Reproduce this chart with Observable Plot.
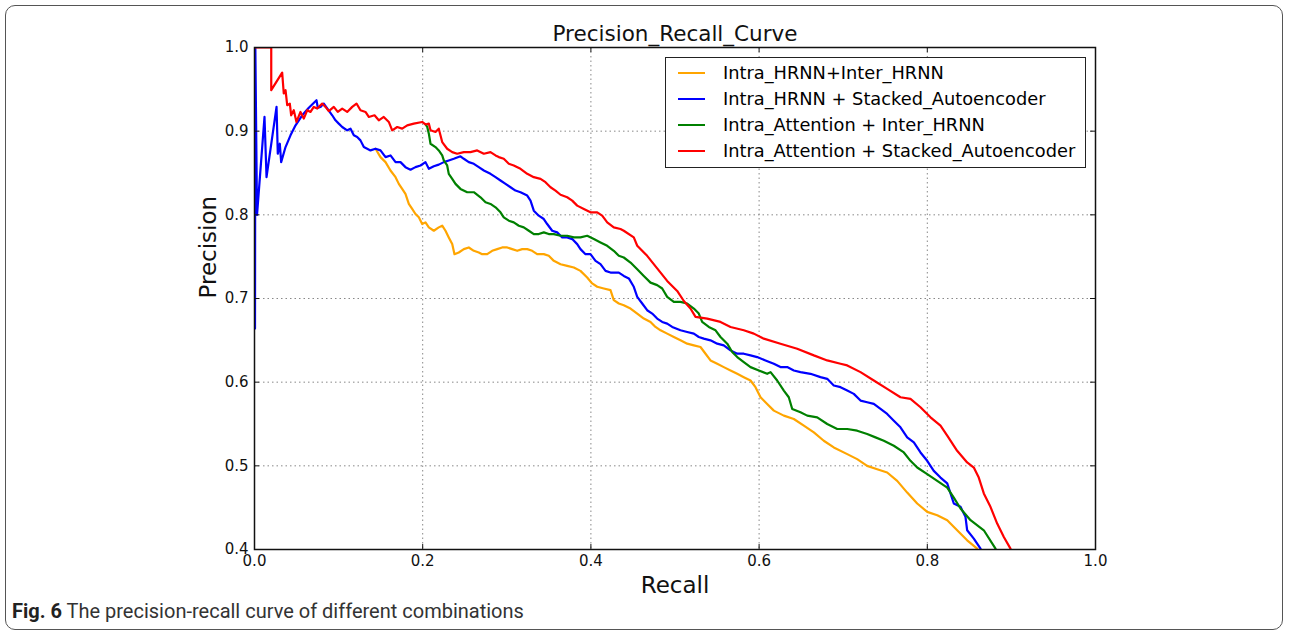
<!DOCTYPE html>
<html>
<head>
<meta charset="utf-8">
<script src="https://cdn.jsdelivr.net/npm/d3@7"></script>
<script src="https://cdn.jsdelivr.net/npm/@observablehq/plot@0.6"></script>
<style>
  html, body { margin: 0; padding: 0; background: #fff; }
  #wrap { position: relative; width: 1290px; height: 637px; overflow: hidden; font-family: "DejaVu Sans", sans-serif; }
  #border { position: absolute; left: 5px; top: 5px; width: 1278px; height: 625px; border: 1.5px solid #555; border-radius: 10px; box-sizing: border-box; }
  #chart { position: absolute; left: 0; top: 0; }
  #legend { position: absolute; left: 665px; top: 57px; width: 421px; height: 111px; border: 1.5px solid #222; box-sizing: border-box; background: #fff; }
  .item { position: absolute; left: 0; height: 22px; font-size: 17.8px; color: #000; white-space: nowrap; }
  .item .sw { position: absolute; left: 12px; top: 10px; width: 27px; height: 0; border-top: 2px solid; }
  .item .lb { position: absolute; left: 57px; top: 0; line-height: 22px; }
  #caption { position: absolute; left: 12px; top: 599px; font-family: Roboto, "Noto Sans", sans-serif; font-size: 20px; color: #333; }
  #caption b { color: #222; }
</style>
</head>
<body>
<div id="wrap">
  <div id="border"></div>
  <div id="chart"></div>
  <div id="legend"></div>
  <div id="caption"><b>Fig. 6</b> The precision-recall curve of different combinations</div>
</div>
<script>
const seriesNames = ["Intra_HRNN+Inter_HRNN", "Intra_HRNN + Stacked_Autoencoder", "Intra_Attention + Inter_HRNN", "Intra_Attention + Stacked_Autoencoder"];
const seriesColors = ["orange", "#0000ff", "#008000", "#ff0000"];
const xTicks = [0.0, 0.2, 0.4, 0.6, 0.8, 1.0];
const yTicks = [0.4, 0.5, 0.6, 0.7, 0.8, 0.9, 1.0];
const titleText = "Precision_Recall_Curve";
const xLabel = "Recall";
const yLabel = "Precision";

// [recall, precision]
const orangePR = [[0.1439,0.879],[0.1498,0.869],[0.1558,0.863],[0.1617,0.853],[0.1677,0.845],[0.1716,0.837],[0.1756,0.831],[0.1795,0.825],[0.1835,0.813],[0.1875,0.807],[0.1914,0.801],[0.1954,0.797],[0.1994,0.789],[0.2033,0.791],[0.2073,0.785],[0.2132,0.781],[0.2191,0.785],[0.2232,0.787],[0.2271,0.781],[0.231,0.773],[0.2351,0.765],[0.2378,0.753],[0.2429,0.755],[0.2489,0.759],[0.2548,0.761],[0.2608,0.757],[0.2667,0.755],[0.2707,0.753],[0.2767,0.753],[0.2826,0.757],[0.2886,0.759],[0.2945,0.761],[0.3005,0.761],[0.3064,0.759],[0.3124,0.757],[0.3183,0.759],[0.3243,0.759],[0.3302,0.757],[0.3361,0.753],[0.344,0.753],[0.3499,0.751],[0.3559,0.745],[0.3639,0.741],[0.3718,0.739],[0.3797,0.737],[0.3876,0.733],[0.3956,0.725],[0.4015,0.718],[0.4075,0.714],[0.4153,0.712],[0.4233,0.71],[0.4272,0.698],[0.4332,0.694],[0.4391,0.692],[0.4471,0.688],[0.4551,0.682],[0.4629,0.676],[0.4709,0.672],[0.4768,0.666],[0.4828,0.662],[0.4907,0.658],[0.4986,0.654],[0.5065,0.65],[0.5145,0.646],[0.5224,0.644],[0.5303,0.642],[0.5363,0.634],[0.5422,0.626],[0.5502,0.622],[0.558,0.618],[0.566,0.614],[0.574,0.61],[0.5818,0.606],[0.5898,0.602],[0.5957,0.594],[0.6017,0.582],[0.6096,0.574],[0.6175,0.566],[0.6294,0.56],[0.6413,0.556],[0.6532,0.548],[0.6651,0.54],[0.6769,0.53],[0.6888,0.522],[0.7048,0.514],[0.7166,0.508],[0.7285,0.5],[0.7404,0.496],[0.7523,0.492],[0.7642,0.482],[0.7761,0.468],[0.788,0.455],[0.7999,0.445],[0.8118,0.441],[0.8237,0.435],[0.8355,0.423],[0.8474,0.411],[0.8593,0.401]];

const bluePR = [[0.0006,0.664],[0.001,1.0],[0.003,0.80],[0.0119,0.917],[0.0143,0.845],[0.0262,0.929],[0.0277,0.873],[0.0301,0.885],[0.0317,0.863],[0.0369,0.881],[0.0428,0.895],[0.0488,0.907],[0.0567,0.919],[0.0646,0.928],[0.0737,0.937],[0.0753,0.928],[0.0785,0.929],[0.0824,0.933],[0.0924,0.919],[0.0963,0.913],[0.1002,0.909],[0.1043,0.905],[0.1102,0.901],[0.1142,0.903],[0.1181,0.895],[0.1221,0.893],[0.126,0.889],[0.13,0.881],[0.134,0.879],[0.1379,0.877],[0.1439,0.879],[0.1498,0.877],[0.1558,0.869],[0.1617,0.871],[0.1677,0.863],[0.1736,0.863],[0.1795,0.857],[0.1855,0.854],[0.1914,0.857],[0.1974,0.859],[0.2033,0.863],[0.2073,0.855],[0.2132,0.858],[0.2191,0.86],[0.2251,0.863],[0.231,0.865],[0.237,0.867],[0.2449,0.87],[0.2489,0.867],[0.2548,0.863],[0.2608,0.861],[0.2667,0.857],[0.2727,0.853],[0.2806,0.849],[0.2866,0.845],[0.2925,0.841],[0.2985,0.837],[0.3044,0.833],[0.3103,0.829],[0.3163,0.827],[0.3243,0.823],[0.3282,0.817],[0.3321,0.805],[0.338,0.799],[0.344,0.795],[0.348,0.789],[0.354,0.781],[0.3599,0.779],[0.3659,0.773],[0.3718,0.773],[0.3778,0.771],[0.3837,0.765],[0.3876,0.759],[0.3936,0.753],[0.3995,0.753],[0.4055,0.745],[0.4114,0.741],[0.4174,0.733],[0.4233,0.731],[0.4332,0.731],[0.4391,0.727],[0.4451,0.724],[0.451,0.714],[0.4551,0.702],[0.461,0.694],[0.4669,0.686],[0.4729,0.682],[0.4788,0.676],[0.4848,0.672],[0.4907,0.67],[0.4967,0.666],[0.5065,0.662],[0.5145,0.66],[0.5224,0.658],[0.5283,0.654],[0.5342,0.652],[0.5422,0.65],[0.5502,0.646],[0.558,0.644],[0.566,0.638],[0.574,0.634],[0.5818,0.634],[0.5898,0.632],[0.5977,0.63],[0.6076,0.626],[0.6175,0.622],[0.6254,0.618],[0.6334,0.618],[0.6413,0.614],[0.6492,0.612],[0.6611,0.61],[0.673,0.606],[0.681,0.604],[0.6888,0.596],[0.6968,0.594],[0.7048,0.59],[0.7126,0.586],[0.7206,0.578],[0.7285,0.576],[0.7364,0.574],[0.7444,0.568],[0.7523,0.562],[0.7602,0.554],[0.7681,0.546],[0.7761,0.534],[0.784,0.528],[0.7919,0.516],[0.7999,0.506],[0.8077,0.494],[0.8157,0.486],[0.8237,0.479],[0.8276,0.467],[0.8315,0.455],[0.8395,0.451],[0.8454,0.439],[0.8474,0.423],[0.8553,0.413],[0.8633,0.401]];

const greenPR = [[0.2033,0.908],[0.2054,0.905],[0.2073,0.897],[0.2093,0.885],[0.2152,0.881],[0.2191,0.877],[0.2232,0.871],[0.2251,0.865],[0.2291,0.859],[0.231,0.849],[0.2351,0.843],[0.239,0.837],[0.2449,0.831],[0.2529,0.827],[0.2608,0.827],[0.2687,0.821],[0.2747,0.815],[0.2806,0.813],[0.2866,0.809],[0.2925,0.803],[0.2964,0.797],[0.3024,0.793],[0.3083,0.791],[0.3143,0.787],[0.3202,0.785],[0.3262,0.781],[0.3321,0.777],[0.338,0.777],[0.344,0.779],[0.3499,0.777],[0.3559,0.777],[0.3639,0.775],[0.3718,0.775],[0.3797,0.773],[0.3876,0.773],[0.3956,0.775],[0.4035,0.771],[0.4114,0.767],[0.4194,0.763],[0.4272,0.757],[0.4332,0.751],[0.4391,0.749],[0.4471,0.743],[0.4551,0.735],[0.4629,0.727],[0.4709,0.719],[0.4788,0.716],[0.4848,0.712],[0.4907,0.702],[0.4986,0.696],[0.5065,0.696],[0.5145,0.694],[0.5224,0.688],[0.5283,0.682],[0.5323,0.672],[0.5402,0.666],[0.5482,0.662],[0.5541,0.654],[0.5621,0.646],[0.568,0.636],[0.574,0.63],[0.5818,0.624],[0.5898,0.618],[0.5997,0.614],[0.6096,0.61],[0.6136,0.612],[0.6215,0.602],[0.6294,0.59],[0.6353,0.582],[0.6394,0.568],[0.6492,0.564],[0.6572,0.56],[0.6691,0.558],[0.681,0.55],[0.6929,0.544],[0.7048,0.544],[0.7166,0.542],[0.7285,0.538],[0.7384,0.534],[0.7483,0.53],[0.7602,0.524],[0.7721,0.516],[0.78,0.506],[0.788,0.498],[0.7999,0.49],[0.8118,0.482],[0.8237,0.474],[0.8315,0.462],[0.8395,0.449],[0.8514,0.435],[0.8672,0.423],[0.8811,0.401]];

const redPR = [[0.0,1.0],[0.0199,1.0],[0.0199,0.949],[0.0329,0.97],[0.0348,0.945],[0.0369,0.949],[0.0389,0.931],[0.042,0.933],[0.0436,0.919],[0.0467,0.925],[0.0499,0.911],[0.0547,0.923],[0.0586,0.915],[0.0627,0.925],[0.0666,0.923],[0.0705,0.929],[0.0746,0.927],[0.0805,0.933],[0.0844,0.929],[0.0883,0.924],[0.0943,0.929],[0.099,0.923],[0.1043,0.927],[0.1102,0.923],[0.1162,0.929],[0.1213,0.933],[0.126,0.925],[0.132,0.923],[0.1359,0.917],[0.1427,0.919],[0.1478,0.913],[0.1537,0.917],[0.1597,0.911],[0.1637,0.901],[0.1697,0.905],[0.1756,0.903],[0.1816,0.907],[0.1894,0.909],[0.1994,0.911],[0.2033,0.908],[0.2073,0.909],[0.2093,0.901],[0.2152,0.899],[0.2191,0.903],[0.2232,0.887],[0.2291,0.879],[0.2351,0.875],[0.241,0.873],[0.2489,0.875],[0.2568,0.875],[0.2648,0.877],[0.2727,0.873],[0.2806,0.875],[0.2866,0.871],[0.2905,0.869],[0.2964,0.867],[0.3024,0.861],[0.3083,0.859],[0.3163,0.855],[0.3243,0.849],[0.3321,0.845],[0.3401,0.843],[0.346,0.839],[0.352,0.833],[0.3579,0.829],[0.3639,0.824],[0.3718,0.821],[0.3778,0.817],[0.3837,0.811],[0.3916,0.807],[0.3995,0.803],[0.4075,0.803],[0.4134,0.799],[0.4194,0.791],[0.4272,0.785],[0.4352,0.783],[0.4391,0.781],[0.451,0.773],[0.4551,0.763],[0.4669,0.751],[0.4788,0.736],[0.4907,0.721],[0.5026,0.709],[0.5105,0.697],[0.5184,0.688],[0.5244,0.678],[0.5383,0.676],[0.5541,0.672],[0.566,0.666],[0.5818,0.662],[0.5937,0.658],[0.6056,0.652],[0.6254,0.646],[0.6453,0.64],[0.6651,0.632],[0.681,0.626],[0.6968,0.622],[0.7048,0.62],[0.7206,0.612],[0.7364,0.602],[0.7523,0.592],[0.7681,0.582],[0.78,0.58],[0.7919,0.57],[0.8038,0.558],[0.8157,0.548],[0.8237,0.536],[0.8355,0.518],[0.8474,0.504],[0.8553,0.498],[0.8612,0.486],[0.8672,0.467],[0.8751,0.451],[0.8831,0.431],[0.891,0.415],[0.8989,0.401]];

const allSeries = [orangePR, bluePR, greenPR, redPR];
const fmt = d3.format(".1f");
const FONT = "DejaVu Sans";

const chart = Plot.plot({
  width: 1290,
  height: 637,
  marginLeft: 254,
  marginRight: 195,
  marginTop: 47,
  marginBottom: 88,
  style: { fontFamily: FONT, background: "transparent", overflow: "visible" },
  x: { domain: [0, 1] },
  y: { domain: [0.4, 1.0] },
  marks: [
    Plot.gridX(xTicks, { stroke: "#888", strokeOpacity: 1, strokeWidth: 1, strokeDasharray: "1.5,3" }),
    Plot.gridY(yTicks, { stroke: "#888", strokeOpacity: 1, strokeWidth: 1, strokeDasharray: "1.5,3" }),
    ...allSeries.map((s, i) => Plot.line(s, { x: d => d[0], y: d => d[1], stroke: seriesColors[i], strokeWidth: 2.2, clip: true })),
    Plot.frame({ stroke: "#111", strokeWidth: 1.5 }),
    Plot.tickX(xTicks, { x: d => d, insetTop: 497, stroke: "#111" }),
    Plot.tickX(xTicks, { x: d => d, insetBottom: 497, stroke: "#111" }),
    Plot.tickY(yTicks, { y: d => d, insetRight: 836, stroke: "#111" }),
    Plot.tickY(yTicks, { y: d => d, insetLeft: 836, stroke: "#111" }),
    Plot.axisX(xTicks, { tickSize: 0, tickPadding: 6, tickFormat: fmt, fontSize: 15, label: null, fill: "#111" }),
    Plot.axisY(yTicks, { tickSize: 0, tickPadding: 6, tickFormat: fmt, fontSize: 15, label: null, fill: "#111" }),
    Plot.text([titleText], { frameAnchor: "top", lineAnchor: "middle", dy: -13, fontSize: 21.5, text: d => d, fill: "#111" }),
    Plot.text([xLabel], { frameAnchor: "bottom", lineAnchor: "middle", dy: 36, fontSize: 23, text: d => d, fill: "#111" }),
    Plot.text([yLabel], { frameAnchor: "left", lineAnchor: "middle", dx: -46, rotate: -90, fontSize: 23, text: d => d, fill: "#111" })
  ]
});
document.getElementById("chart").appendChild(chart);

const legend = document.getElementById("legend");
seriesNames.forEach((name, i) => {
  const it = document.createElement("div");
  it.className = "item";
  it.style.top = (3.5 + i * 26) + "px";
  it.innerHTML = `<span class="sw" style="border-color:${seriesColors[i]}"></span><span class="lb"></span>`;
  it.querySelector(".lb").textContent = name;
  legend.appendChild(it);
});
</script>
</body>
</html>
